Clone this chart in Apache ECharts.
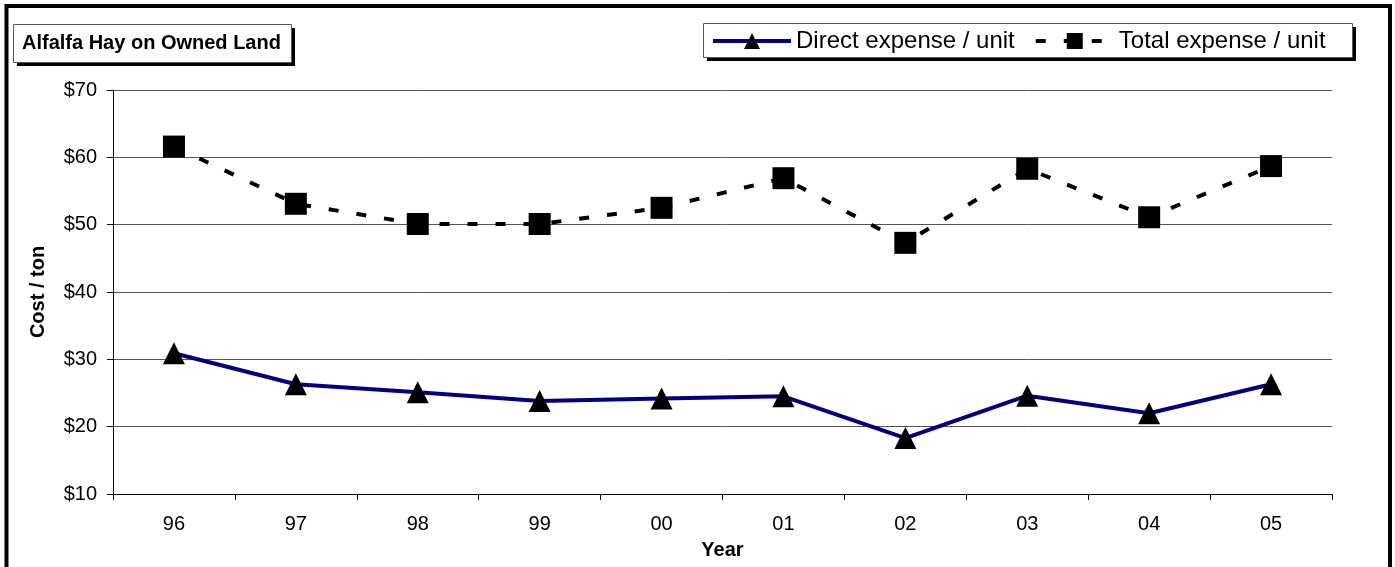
<!DOCTYPE html>
<html>
<head>
<meta charset="utf-8">
<script src="https://cdn.jsdelivr.net/npm/echarts@6/dist/echarts.min.js"></script>
<style>
html,body{margin:0;padding:0;background:#fff;}
#chart{width:1395px;height:567px;}
</style>
</head>
<body>
<div id="chart"></div>
<script>
const years = ['96','97','98','99','00','01','02','03','04','05'];
const directExpense = [30.9, 26.3, 25.1, 23.8, 24.2, 24.5, 18.3, 24.6, 22.0, 26.3];
const totalExpense = [61.6, 53.1, 50.1, 50.1, 52.5, 56.9, 47.3, 58.3, 51.1, 58.7];
const seriesNames = ['Direct expense / unit', 'Total expense / unit'];
const chartTitle = 'Alfalfa Hay on Owned Land';
const yAxisName = 'Cost / ton';
const xAxisName = 'Year';

const FONT = '"Liberation Sans", Arial, sans-serif';
const chart = echarts.init(document.getElementById('chart'), null, {renderer: 'canvas'});

chart.setOption({
  animation: false,
  backgroundColor: '#fff',
  graphic: [
    {type: 'rect', z: 0, shape: {x: 6.5, y: 6, width: 1383.5, height: 600}, style: {fill: '#fff', stroke: '#000', lineWidth: 4}},
    {type: 'rect', z: 1, shape: {x: 17, y: 28, width: 278, height: 38}, style: {fill: '#000'}},
    {type: 'rect', z: 1, shape: {x: 13.5, y: 24.5, width: 278, height: 38}, style: {fill: '#fff', stroke: '#555', lineWidth: 1}},
    {type: 'rect', z: 1, shape: {x: 707, y: 27, width: 649, height: 34}, style: {fill: '#000'}},
    {type: 'rect', z: 1, shape: {x: 703.5, y: 23.5, width: 649, height: 34}, style: {fill: '#fff', stroke: '#555', lineWidth: 1}}
  ],
  title: {
    text: chartTitle,
    left: 13,
    top: 24,
    padding: [9, 9],
    z: 10,
    textStyle: {fontFamily: FONT, fontSize: 20, fontWeight: 'bold', color: '#000', lineHeight: 20}
  },
  legend: {
    data: seriesNames,
    left: 703,
    top: 23,
    padding: [6, 5, 5, 8],
    itemWidth: 78,
    itemHeight: 20,
    itemGap: 19,
    z: 10,
    lineStyle: {width: 4},
    textStyle: {fontFamily: FONT, fontSize: 24, color: '#000', width: 225}
  },
  grid: {left: 113, right: 63, top: 90, bottom: 73, containLabel: false},
  xAxis: {
    type: 'category',
    data: years,
    boundaryGap: true,
    name: xAxisName,
    nameLocation: 'middle',
    nameGap: 46,
    nameTextStyle: {fontFamily: FONT, fontSize: 20, fontWeight: 'bold', color: '#000'},
    axisLine: {show: true, lineStyle: {color: '#000', width: 1}},
    axisTick: {show: true, length: 6, inside: false, alignWithLabel: false, lineStyle: {color: '#000'}},
    axisLabel: {fontFamily: FONT, fontSize: 20, color: '#000', margin: 20},
    splitLine: {show: false}
  },
  yAxis: {
    type: 'value',
    min: 10,
    max: 70,
    interval: 10,
    name: yAxisName,
    nameLocation: 'middle',
    nameGap: 65,
    nameRotate: 90,
    nameTextStyle: {fontFamily: FONT, fontSize: 20, fontWeight: 'bold', color: '#000'},
    axisLine: {show: true, lineStyle: {color: '#000', width: 1}},
    axisTick: {show: true, length: 6, inside: false, lineStyle: {color: '#000'}},
    axisLabel: {fontFamily: FONT, fontSize: 20, color: '#000', margin: 16, formatter: '${value}'},
    splitLine: {show: true, lineStyle: {color: '#555', width: 1}}
  },
  series: [
    {
      name: seriesNames[0],
      type: 'line',
      data: directExpense,
      symbol: 'triangle',
      symbolSize: 22,
      z: 3,
      lineStyle: {color: '#000080', width: 4},
      itemStyle: {color: '#000', borderWidth: 0}
    },
    {
      name: seriesNames[1],
      type: 'line',
      data: totalExpense,
      symbol: 'rect',
      symbolSize: 22,
      z: 3,
      lineStyle: {color: '#000', width: 4, type: [10, 18]},
      itemStyle: {color: '#000', borderWidth: 0}
    }
  ]
});
</script>
</body>
</html>
